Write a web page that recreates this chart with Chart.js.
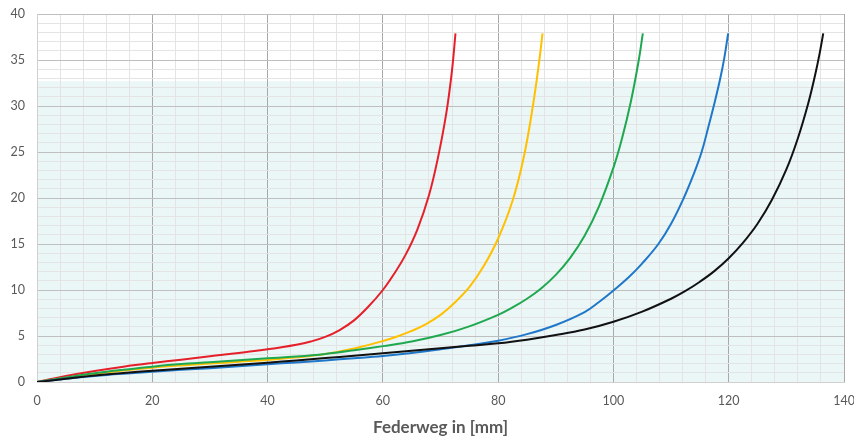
<!DOCTYPE html>
<html>
<head>
<meta charset="utf-8">
<script src="https://cdn.jsdelivr.net/npm/chart.js@4/dist/chart.umd.min.js"></script>
<style>
  html, body { margin: 0; padding: 0; background: #ffffff; }
  #wrap { width: 854px; height: 442px; position: relative; }
</style>
</head>
<body>
<div id="wrap"><canvas id="c" width="854" height="442"></canvas></div>
<script>
// ---- data ----
const redX    = [0, 5, 10, 15, 20, 25, 30, 35, 40, 45, 47.5, 50, 52.5, 55, 57.5, 60, 62, 64, 66, 68, 69.5, 71, 72, 72.6];
const redY    = [0, 0.65, 1.2, 1.67, 2.07, 2.43, 2.8, 3.15, 3.55, 4.05, 4.4, 4.9, 5.65, 6.7, 8.2, 10.0, 11.8, 13.9, 16.6, 20.3, 24.2, 29.2, 33.9, 37.9];

const yellowX = [0, 5, 10, 15, 20, 25, 30, 35, 40, 45, 50, 55, 60, 62.5, 65, 67.5, 70, 72.5, 75, 77.5, 80, 82.5, 84.5, 86.1, 87.15, 87.7];
const yellowY = [0, 0.45, 0.9, 1.25, 1.56, 1.8, 2.0, 2.2, 2.39, 2.68, 3.05, 3.65, 4.45, 4.95, 5.55, 6.3, 7.3, 8.65, 10.3, 12.6, 15.6, 19.7, 24.6, 30.3, 35.0, 37.9];

const greenX  = [0, 5, 10, 15, 20, 25, 30, 35, 40, 45, 50, 55, 60, 65, 70, 75, 80, 82.5, 85, 87.5, 90, 92.5, 95, 97.5, 100, 101.5, 103, 104.4, 105.1];
const greenY  = [0, 0.5, 0.95, 1.33, 1.67, 1.95, 2.15, 2.37, 2.57, 2.77, 3.05, 3.45, 3.9, 4.4, 5.1, 6.05, 7.3, 8.1, 9.05, 10.2, 11.65, 13.5, 15.9, 19.1, 23.3, 26.5, 30.4, 35.0, 37.9];

const blueX   = [0, 5, 10, 15, 20, 25, 30, 35, 40, 45, 50, 55, 60, 65, 70, 75, 80, 85, 90, 95, 97.5, 100, 102.6, 105, 107.8, 110, 112.2, 113.8, 115.3, 116.5, 117.6, 118.5, 119.2, 119.9];
const blueY   = [0, 0.35, 0.65, 0.9, 1.12, 1.32, 1.5, 1.7, 1.92, 2.13, 2.35, 2.58, 2.83, 3.15, 3.55, 4.0, 4.49, 5.2, 6.2, 7.6, 8.7, 9.95, 11.35, 12.9, 15.0, 17.2, 20.0, 22.4, 25.0, 27.8, 30.5, 32.9, 35.1, 37.9];

const blackX  = [0, 5, 10, 15, 20, 25, 30, 35, 40, 45, 50, 55, 60, 65, 70, 75, 80, 85, 90, 95, 100, 105, 110, 112.5, 115, 117.5, 120, 122.5, 125, 127.5, 130, 132, 133.8, 135, 135.8, 136.4];
const blackY  = [0, 0.35, 0.7, 0.98, 1.23, 1.45, 1.65, 1.87, 2.1, 2.35, 2.6, 2.86, 3.12, 3.39, 3.66, 3.93, 4.2, 4.6, 5.1, 5.7, 6.55, 7.65, 9.05, 9.9, 10.9, 12.05, 13.45, 15.15, 17.2, 19.8, 23.1, 26.5, 30.3, 33.4, 35.8, 37.9];

// shaded band (light cyan region from 0 up to this level)
const bandX   = [0, 140];
const bandY   = [32.7, 32.7];

// tick labels
const xTickLabels = [0, 20, 40, 60, 80, 100, 120, 140];
const yTickLabels = [0, 5, 10, 15, 20, 25, 30, 35, 40];
const xTitle = 'Federweg in [mm]';

// ---- build ----
const pts = (xs, ys) => xs.map((x, i) => ({ x: x, y: ys[i] }));

function line(data, color) {
  return {
    data: data,
    borderColor: color,
    backgroundColor: color,
    borderWidth: 2,
    pointRadius: 0,
    fill: false,
    tension: 0.4
  };
}

const datasets = [
  line(pts(blackX, blackY), '#111111'),
  line(pts(blueX, blueY), '#1F77C9'),
  line(pts(greenX, greenY), '#1FA84F'),
  line(pts(yellowX, yellowY), '#FFC000'),
  line(pts(redX, redY), '#E5202A'),
  {
    data: pts(bandX, bandY),
    borderWidth: 0,
    borderColor: 'rgba(0,0,0,0)',
    backgroundColor: '#EBF6F6',
    pointRadius: 0,
    fill: 'origin',
    tension: 0
  }
];

const tickFont = { family: 'Lato, "Open Sans", sans-serif', size: 12.5 };

new Chart(document.getElementById('c'), {
  type: 'line',
  data: { datasets: datasets },
  options: {
    responsive: false,
    animation: false,
    layout: { padding: { left: 0, right: 10, top: 14, bottom: 0 } },
    plugins: {
      legend: { display: false },
      tooltip: { enabled: false },
      filler: { drawTime: 'beforeDraw' }
    },
    scales: {
      x: {
        type: 'linear',
        min: 0, max: 140,
        ticks: {
          stepSize: 4,
          autoSkip: false,
          maxRotation: 0,
          padding: 11,
          color: '#595959',
          font: tickFont,
          callback: (v) => xTickLabels.includes(v) ? String(v) : ''
        },
        grid: {
          drawTicks: false,
          lineWidth: 1,
          color: (ctx) => (ctx.tick && xTickLabels.includes(ctx.tick.value)) ? '#A9A9A9' : '#E4E4E4'
        },
        border: { display: true, color: '#D0D0D0' },
        title: {
          display: true,
          text: xTitle,
          color: '#595959',
          font: { family: 'Lato, "Open Sans", sans-serif', size: 17, weight: 'bold' },
          padding: { top: 4, bottom: 4 }
        },
        afterFit: (s) => { s.height = 60; s.paddingLeft = 0; s.paddingRight = 0; }
      },
      y: {
        type: 'linear',
        min: 0, max: 40,
        ticks: {
          stepSize: 1,
          autoSkip: false,
          padding: 12,
          color: '#595959',
          font: tickFont,
          callback: (v) => yTickLabels.includes(v) ? String(v) : ''
        },
        grid: {
          drawTicks: false,
          lineWidth: 1,
          color: (ctx) => (ctx.tick && yTickLabels.includes(ctx.tick.value)) ? '#BFBFBF' : '#E4E4E4'
        },
        border: { display: true, color: '#D0D0D0' },
        afterFit: (s) => { s.width = 37; s.paddingTop = 0; s.paddingBottom = 0; }
      }
    }
  }
});
</script>
</body>
</html>
